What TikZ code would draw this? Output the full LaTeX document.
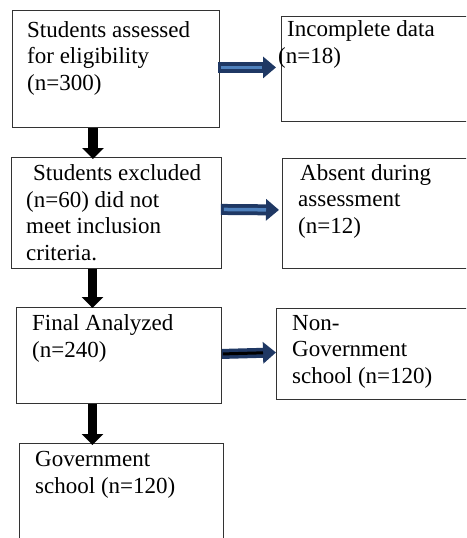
\documentclass[tikz,border=0pt]{standalone}
\usepackage{fontspec}
\setmainfont{Liberation Serif}
\usetikzlibrary{arrows.meta}
\definecolor{navy}{HTML}{1F3864}
\definecolor{lightnavy}{HTML}{4F81BD}
\begin{document}
\begin{tikzpicture}[x=1pt, y=-1pt]
        \tikzstyle{box} = [draw=black!80, line width=0.9pt, rectangle, inner sep=0pt, anchor=north west]
        \tikzstyle{txt} = [align=left, anchor=base west, inner sep=0pt, font=\fontsize{23pt}{26.5pt}\selectfont]
        \tikzstyle{down} = [-{Triangle[length=11pt, width=21pt]}, line width=9.5pt, black]
        \tikzstyle{side} = [-{Triangle[length=13pt, width=21pt]}, line width=11pt, navy]
        \useasboundingbox (0,0) rectangle (466,538);
        \clip (0,0) rectangle (466,538);
        % boxes
        \node[box, minimum width=207pt, minimum height=117pt] (assessed) at (12,10) {};
        \node[box, minimum width=200pt, minimum height=105pt] (incomplete) at (281,16) {};
        \node[box, minimum width=210pt, minimum height=111pt] (excluded) at (11,157) {};
        \node[box, minimum width=200pt, minimum height=110pt] (absent) at (282,158) {};
        \node[box, minimum width=205pt, minimum height=96pt] (analyzed) at (16,307) {};
        \node[box, minimum width=200pt, minimum height=91pt] (nongov) at (276,308) {};
        \node[box, minimum width=204pt, minimum height=120pt] (gov) at (19,443) {};
        % texts (anchored at the last line)
        \node[txt] (assessedtxt) at (27,90) {Students assessed\\for eligibility\\(n=300)};
        \node[txt] (incompletetxt) at (278,63) {\hspace{9pt}Incomplete data\\(n=18)};
        \node[txt] (excludedtxt) at (26,260) {\hspace{7pt}Students excluded\\(n=60) did not\\meet inclusion\\criteria.};
        \node[txt] (absenttxt) at (298,233) {\hspace{2pt}Absent during\\assessment\\(n=12)};
        \node[txt] (analyzedtxt) at (32,357) {Final Analyzed\\(n=240)};
        \node[txt] (nongovtxt) at (292,383) {Non-\\Government\\school (n=120)};
        \node[txt] (govtxt) at (35,493) {Government\\school (n=120)};
        % arrows down
        \draw[down] ([xshift=-23pt]assessed.south) -- ([xshift=-23.5pt, yshift=-2pt]excluded.north);
        \draw[down] ([xshift=-24pt]excluded.south) -- ([xshift=-26.5pt, yshift=-1pt]analyzed.north);
        \draw[down] ([xshift=-26.5pt]analyzed.south) -- ([xshift=-29pt, yshift=-2pt]gov.north);
        % arrows right
        \draw[side, shorten <=-2pt, shorten >=5pt] ([yshift=1.5pt]assessed.east) -- ([yshift=1.5pt]incomplete.west);
        \draw[lightnavy, line width=3.5pt, shorten <=1pt, shorten >=19pt] ([yshift=1.5pt]assessed.east) -- ([yshift=1.5pt]incomplete.west);
        \draw[side, shorten <=-1pt, shorten >=3pt] ([yshift=3.5pt]excluded.east) -- ([yshift=3.5pt]absent.west);
        \draw[lightnavy, line width=3.5pt, shorten <=2pt, shorten >=16pt] ([yshift=3.5pt]excluded.east) -- ([yshift=3.5pt]absent.west);
        \draw[side, line width=10pt] ([yshift=1.5pt]analyzed.east) -- ([yshift=1.5pt]nongov.west);
        \draw[black, line width=3pt, shorten <=1pt, shorten >=13pt] ([yshift=1.5pt]analyzed.east) -- ([yshift=1.5pt]nongov.west);
\end{tikzpicture}
\end{document}
